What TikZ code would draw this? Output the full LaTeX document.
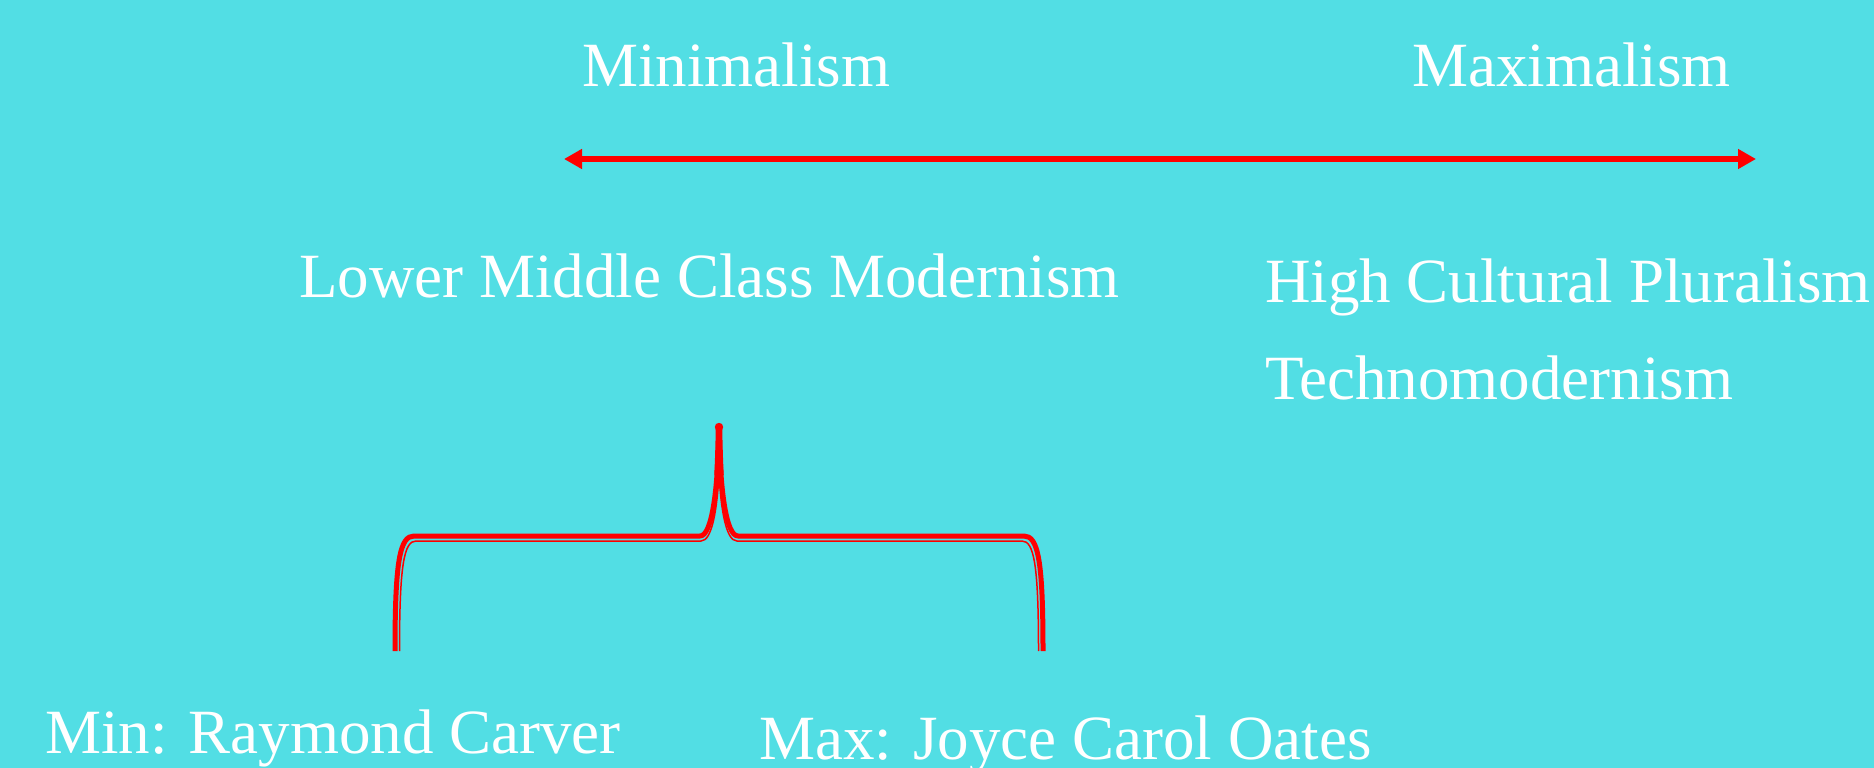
\documentclass[tikz,border=0pt]{standalone}
\usepackage{fontspec}
\setmainfont{Liberation Serif}
\usetikzlibrary{arrows.meta}
\definecolor{bgcyan}{RGB}{82,222,228}
\definecolor{pured}{RGB}{255,0,0}
\begin{document}
\begin{tikzpicture}[x=1pt,y=-1pt,
  lbl/.style={anchor=base west, inner sep=0pt, text=white, font=\fontsize{63}{75}\selectfont},
  scalearrow/.style={draw=pured, line width=6.5pt, {Triangle[length=18pt,width=19pt]}-{Triangle[length=18pt,width=19pt]}},
  bracemain/.style={draw=pured, line width=5pt, line join=round},
  bracetip/.style={draw=pured, line width=6.5pt, line join=round, line cap=butt},
  braceinner/.style={draw=pured, line width=1.5pt, line join=round}]
\fill[bgcyan] (0,0) rectangle (1874,768);
\useasboundingbox (0,0) rectangle (1874,768);

\node[lbl] (min) at (582,87) {Minimalism};
\node[lbl] (max) at (1412,87) {Maximalism};
\node[lbl] (lmcm) at (299,297) {Lower Middle Class Modernism};
\node[lbl] (hcp) at (1265,302) {High Cultural Pluralism};
\node[lbl] (tech) at (1265,399) {Technomodernism};
\node[lbl] (carver) at (45,753) {Min: Raymond Carver};
\node[lbl] (oates) at (759,759) {Max: Joyce Carol Oates};

\coordinate (aL) at (564,159);
\coordinate (aR) at (1756,159);
\draw[scalearrow] (aL) -- (aR);

\coordinate (bL) at (395,651);
\coordinate (bT) at (719,427);
\coordinate (bR) at (1043,651);
\draw[bracemain] (bL) .. controls (395,560) and (400,536) .. (414,536) -- (700,536)
  .. controls (712,536) and (718,490) .. (bT)
  .. controls (720,490) and (726,536) .. (738,536) -- (1024,536)
  .. controls (1038,536) and (1043,560) .. (bR);
\draw[bracetip] (717.5,475) .. controls (718.3,460) and (718.8,442) .. (bT)
  .. controls (719.2,442) and (719.7,460) .. (720.5,475);
\fill[pured] (bT) circle[radius=4.2pt];
\draw[braceinner] (399.5,651) .. controls (399.5,565) and (404,541) .. (416,541) -- (701,541)
  .. controls (712,541) and (717,510) .. (719,474)
  .. controls (721,510) and (726,541) .. (737,541) -- (1022,541)
  .. controls (1034,541) and (1038.5,565) .. (1038.5,651);
\end{tikzpicture}
\end{document}
